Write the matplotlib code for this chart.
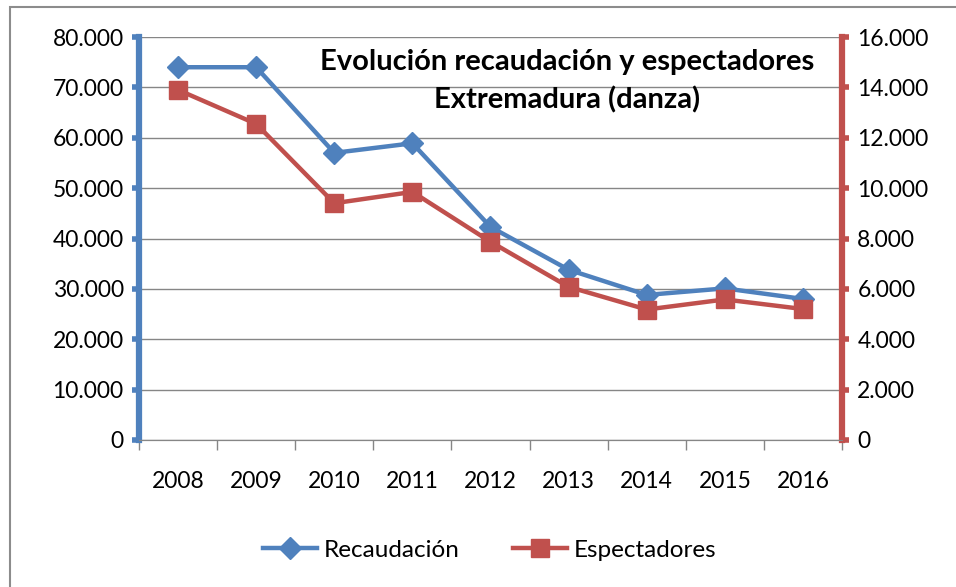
import matplotlib.pyplot as plt
from matplotlib.patches import Rectangle
from matplotlib.ticker import FuncFormatter

years = ['2008', '2009', '2010', '2011', '2012', '2013', '2014', '2015', '2016']
recaudacion = [74000, 74000, 57000, 58900, 42300, 33800, 28800, 30100, 28000]
espectadores = [13900, 12550, 9400, 9850, 7870, 6080, 5180, 5580, 5200]

blue = '#4F81BD'
red = '#C0504D'
plt.rcParams['font.family'] = ['Lato', 'DejaVu Sans']

fig = plt.figure(figsize=(9.56, 5.87), dpi=100)
fig.patches.append(Rectangle((10 / 956, -0.1), 1.2, 1 - 7 / 587 + 0.1, transform=fig.transFigure,
                             fill=False, edgecolor='#8c8c8c', linewidth=1.5))

ax = fig.add_axes([139 / 956, 1 - 440 / 587, (842 - 139) / 956, (440 - 37) / 587])
ax2 = ax.twinx()

x = list(range(len(years)))
ax.plot(x, recaudacion, color=blue, lw=3.2, marker='D', ms=11, zorder=3, label='Recaudación')
ax2.plot(x, espectadores, color=red, lw=3.2, marker='s', ms=13, zorder=3, label='Espectadores')

ax.set_xlim(-0.5, len(years) - 0.5)
ax.set_ylim(0, 80000)
ax2.set_ylim(0, 16000)
ax.set_yticks(range(0, 80001, 10000))
ax2.set_yticks(range(0, 16001, 2000))
fmt = FuncFormatter(lambda v, p: f'{int(v):,}'.replace(',', '.'))
ax.yaxis.set_major_formatter(fmt)
ax2.yaxis.set_major_formatter(fmt)

ax.set_xticks(x)
ax.set_xticklabels(years)
ax.set_xticks([i - 0.5 for i in range(len(years) + 1)], minor=True)
ax.tick_params(axis='x', which='major', length=0, pad=22, labelsize=16.5)
ax.tick_params(axis='x', which='minor', length=7, width=1, color='#868686')
ax.tick_params(axis='y', length=5, width=4, color=blue, labelsize=16.5, pad=6)
ax2.tick_params(axis='y', length=5, width=4, color=red, labelsize=16.5, pad=6)

ax.grid(axis='y', color='#868686', lw=1)
ax.set_axisbelow(True)
for a in (ax, ax2):
    a.spines['top'].set_visible(False)
    a.spines['bottom'].set_color('#868686')
ax.spines['right'].set_visible(False)
ax.spines['left'].set_color(blue)
ax.spines['left'].set_linewidth(4.5)
ax2.spines['left'].set_visible(False)
ax2.spines['right'].set_color(red)
ax2.spines['right'].set_linewidth(4.5)

fig.text(567 / 956, 1 - 81 / 587, 'Evolución recaudación y espectadores\nExtremadura (danza)',
         ha='center', va='center', fontsize=21, fontweight='bold', linespacing=1.5)

h1, l1 = ax.get_legend_handles_labels()
h2, l2 = ax2.get_legend_handles_labels()
fig.legend(h1 + h2, l1 + l2, loc='center', bbox_to_anchor=(490 / 956, 1 - 550 / 587), ncol=2,
           frameon=False, fontsize=17.5, handlelength=2.2, columnspacing=2.2, handletextpad=0.3)

fig.savefig('out.png', dpi=100)
